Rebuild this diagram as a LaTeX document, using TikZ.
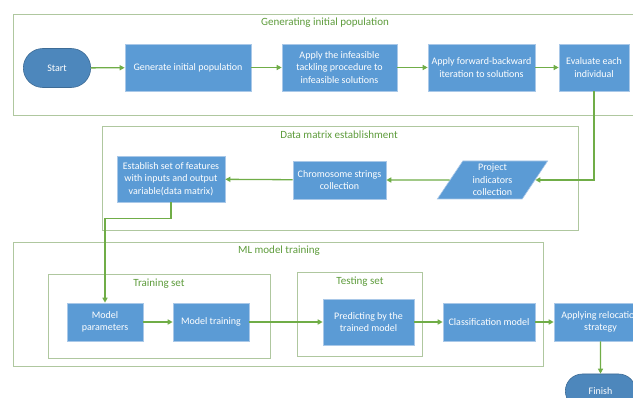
\documentclass[tikz,border=0pt]{standalone}
\usepackage{fontspec}
\setmainfont{Carlito}
\usetikzlibrary{arrows.meta,shapes.misc,shapes.geometric}
\definecolor{boxblue}{HTML}{5B9BD5}
\definecolor{termblue}{HTML}{4D87BC}
\definecolor{boxedge}{HTML}{A9C8E8}
\definecolor{arrowgreen}{HTML}{70AD47}
\definecolor{framegreen}{HTML}{AFC79F}
\definecolor{titlegreen}{HTML}{5E9C3C}
\tikzset{
  proc/.style={rectangle, fill=boxblue, draw=boxedge, line width=0.6pt, text=white,
    font=\fontsize{10}{12.5}\selectfont, align=center, inner sep=1pt},
  term/.style={rounded rectangle, fill=termblue, draw=termblue!80!black, line width=0.6pt,
    text=white, font=\fontsize{10}{12.5}\selectfont, minimum width=74pt, minimum height=39pt},
  para/.style={trapezium, trapezium left angle=62, trapezium right angle=118,
    trapezium stretches=true, fill=boxblue, draw=boxedge, line width=0.6pt, text=white,
    font=\fontsize{10}{12.5}\selectfont, align=center, inner sep=0pt},
  frame/.style={rectangle, draw=framegreen, line width=0.9pt},
  ftitle/.style={text=titlegreen, font=\fontsize{11}{13}\selectfont},
  conn/.style={draw=arrowgreen, line width=1.3pt, -{Triangle[length=5pt,width=5pt]}}
}
\begin{document}
\begin{tikzpicture}[x=1pt,y=-1pt]
\useasboundingbox[fill=white] (0,0) rectangle (633,398);
% frames
\node[frame, minimum width=627pt, minimum height=101pt] (f1) at (326.5,64.5) {};
\node[frame, minimum width=476pt, minimum height=104pt] (f2) at (340,178) {};
\node[frame, minimum width=530pt, minimum height=124pt] (f3) at (278,304) {};
\node[frame, minimum width=222pt, minimum height=84pt] (f4) at (159,316) {};
\node[frame, minimum width=125pt, minimum height=84pt] (f5) at (359.5,314) {};
% titles
\node[ftitle] (t1) at (325,23) {Generating initial population};
\node[ftitle] (t2) at (339,135) {Data matrix establishment};
\node[ftitle] (t3) at (279,251) {ML model training};
\node[ftitle] (t4) at (159,284) {Training set};
\node[ftitle] (t5) at (360,282) {Testing set};
% row 1
\node[term] (start) at (57,68) {Start};
\node[proc, minimum width=126pt, minimum height=47pt] (gen) at (188,67.5) {Generate initial population};
\node[proc, minimum width=115pt, minimum height=47pt] (inf) at (339.5,67.5) {Apply the infeasible\\tackling procedure to\\infeasible solutions};
\node[proc, minimum width=107pt, minimum height=47pt] (fb) at (481.5,67.5) {Apply forward-backward\\iteration to solutions};
\node[proc, minimum width=70pt, minimum height=47pt] (eval) at (594,67.5) {Evaluate each\\individual};
% row 2
\node[proc, minimum width=108pt, minimum height=46pt] (est) at (171,179) {Establish set of features\\with inputs and output\\variable(data matrix)};
\node[proc, minimum width=93pt, minimum height=38pt] (chrom) at (339.5,180) {Chromosome strings\\collection};
\node[para, minimum width=111pt, minimum height=38pt] (proj) at (492.5,180) {Project\\indicators\\collection};
% row 3
\node[proc, minimum width=76pt, minimum height=38pt] (param) at (105,322) {Model\\parameters};
\node[proc, minimum width=76pt, minimum height=38pt] (train) at (211,322) {Model training};
\node[proc, minimum width=91pt, minimum height=46pt] (pred) at (368.5,322) {Predicting by the\\trained model};
\node[proc, minimum width=92pt, minimum height=38pt] (class) at (489,322) {Classification model};
\node[proc, minimum width=93pt, minimum height=38pt] (reloc) at (600.5,322) {Applying relocation\\strategy};
\node[term, minimum width=77pt, minimum height=34pt] (finish) at (600.5,391) {Finish};
% connectors
\draw[conn] (start) -- (gen);
\draw[conn] (gen) -- (inf);
\draw[conn] (inf) -- (fb);
\draw[conn] (fb) -- (eval);
\draw[conn] (eval.south) |- (proj.east);
\draw[conn] (proj) -- (chrom);
\draw[conn] (chrom) -- (est);
\draw[conn] (est.south) -- ++(0,16) -| (param.north);
\draw[conn] (param) -- (train);
\draw[conn] (train) -- (pred);
\draw[conn] (pred) -- (class);
\draw[conn] (class) -- (reloc);
\draw[conn] (reloc) -- (finish);
\end{tikzpicture}
\end{document}
